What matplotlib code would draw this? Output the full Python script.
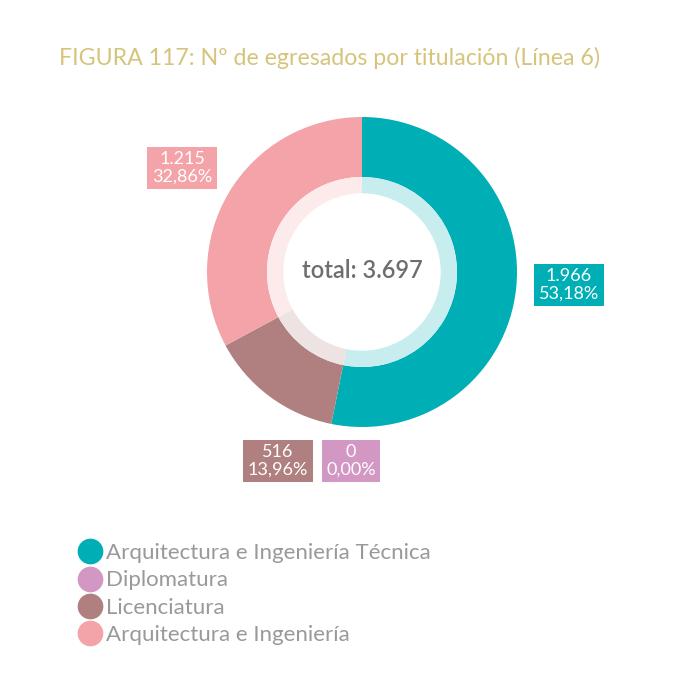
import matplotlib
matplotlib.use('Agg')
import numpy as np
from matplotlib import pyplot as plt
from matplotlib.lines import Line2D

plt.rcParams['font.family'] = ['Lato', 'DejaVu Sans']

# datos
categorias = ['Arquitectura e Ingeniería Técnica', 'Diplomatura', 'Licenciatura',
              'Arquitectura e Ingeniería']
valores = [1966, 0, 516, 1215]
colores = ['#00aeb5', '#d397c4', '#b07f7f', '#f4a3a8']
titulo = 'FIGURA 117: Nº de egresados por titulación (Línea 6)'

# posiciones de las etiquetas (px desde arriba)
pos_etiquetas = [(569, 285), (351, 461), (278, 461), (182, 168)]


def aclarar(c, f):
    rgb = np.array(matplotlib.colors.to_rgb(c))
    return tuple(rgb + (1 - rgb) * f)


def fmt_miles(v):
    return f'{v:,}'.replace(',', '.')


def fmt_pct(p):
    return f'{p:.2f}%'.replace('.', ',')


fig = plt.figure(figsize=(7, 7), dpi=100)
ax = fig.add_axes([0, 0, 1, 1])

H = 700
cx, cy = 362, H - 272
total = sum(valores)

# anillo exterior
ax.pie(valores, colors=colores, startangle=90, counterclock=False,
       center=(cx, cy), radius=155, wedgeprops=dict(width=60, linewidth=0),
       frame=True)
# anillo interior claro
ax.pie(valores, colors=[aclarar(c, 0.78) for c in colores], startangle=90,
       counterclock=False, center=(cx, cy), radius=95,
       wedgeprops=dict(width=17, linewidth=0), frame=True)
ax.add_patch(plt.Circle((cx, cy), 78, color='white', zorder=5))
ax.set_xlim(0, 700)
ax.set_ylim(0, 700)
ax.set_aspect('equal')
ax.axis('off')

ax.text(cx, cy + 2, f'total: {fmt_miles(total)}', ha='center', va='center',
        fontsize=17, color='#6e6e6e', fontweight='semibold', zorder=6)

for v, c, (px, py) in zip(valores, colores, pos_etiquetas):
    ax.text(px, H - py, f'{fmt_miles(v)}\n{fmt_pct(100 * v / total)}',
            ha='center', va='center', fontsize=13, color='white',
            linespacing=1.1,
            bbox=dict(boxstyle='square,pad=0.25', fc=c, ec='none'))

fig.text(59 / 700, 1 - 58 / 700, titulo, ha='left', va='center',
         fontsize=16.7, color='#d6c47c')

handles = [Line2D([], [], marker='o', linestyle='', markersize=18.5,
                  markerfacecolor=c, markeredgecolor='none') for c in colores]
fig.legend(handles, categorias, loc='upper left',
           bbox_to_anchor=(64 / 700, 1 - 532 / 700), frameon=False,
           fontsize=16, labelcolor='#999999', handletextpad=0.1,
           labelspacing=0.33, handlelength=1.3, borderpad=0)

fig.savefig('out.png', dpi=100, facecolor='white')
